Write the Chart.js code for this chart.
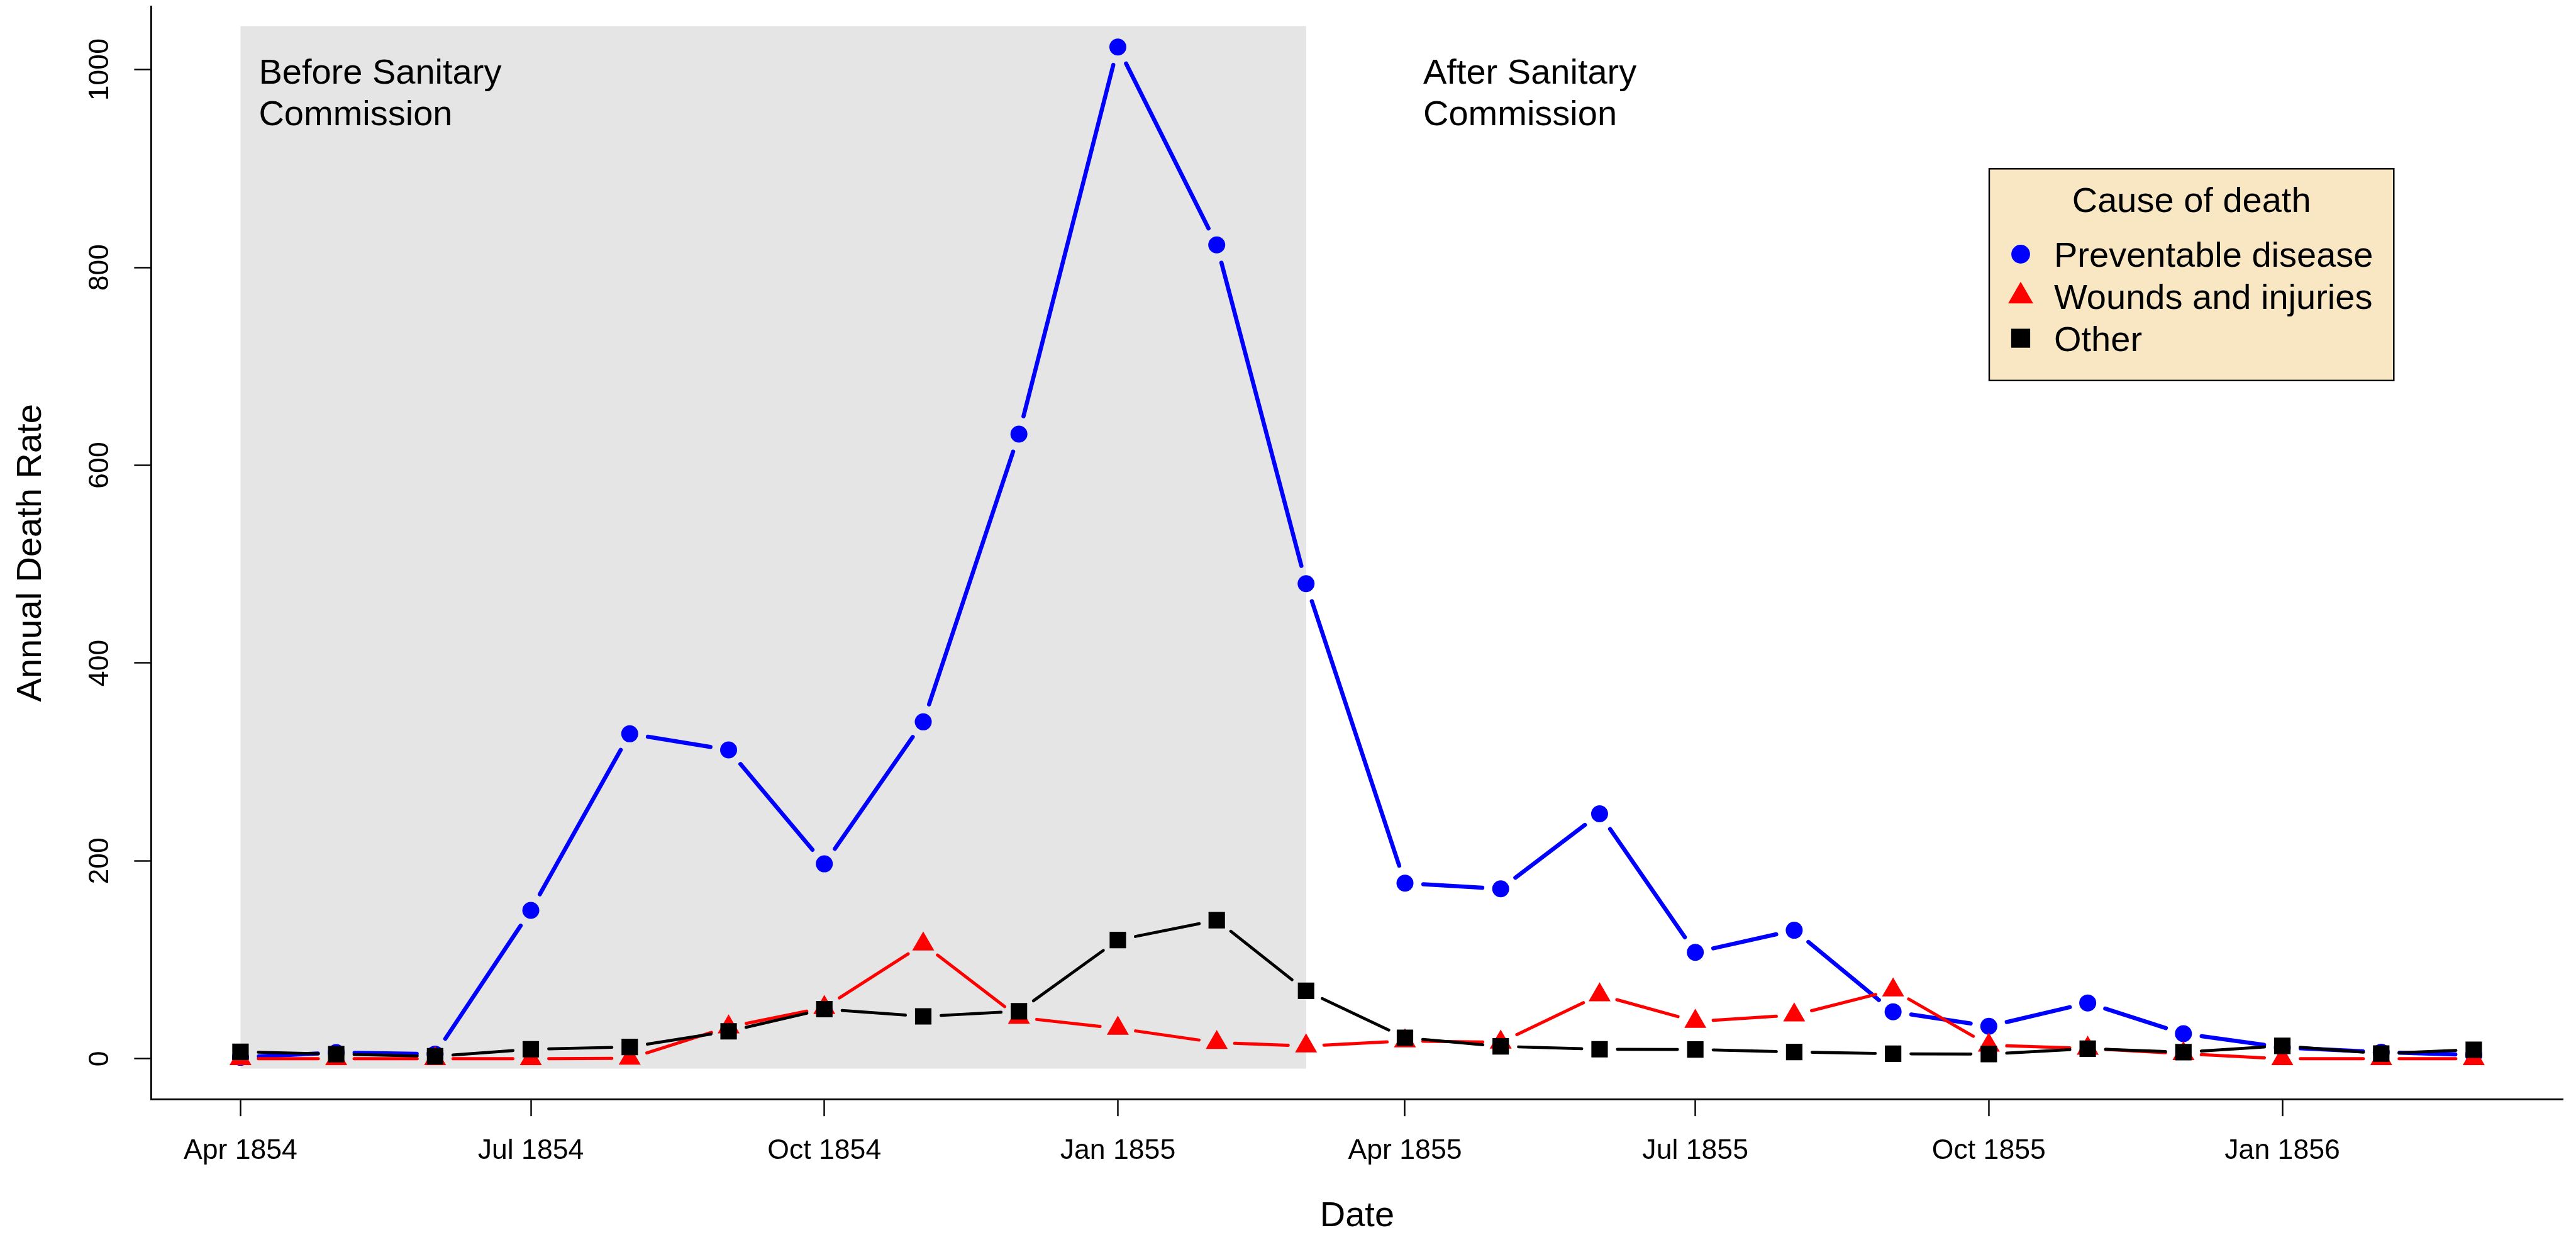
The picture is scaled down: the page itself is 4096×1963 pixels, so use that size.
<!DOCTYPE html>
<html><head><meta charset="utf-8">
<script src="https://cdn.jsdelivr.net/npm/chart.js@4.4.1/dist/chart.umd.min.js"></script>
<style>html,body{margin:0;padding:0;background:#fff;overflow:hidden}canvas{display:block}</style>
</head><body>
<canvas id="c" width="4096" height="1963" style="width:4096px;height:1963px"></canvas>
<script>
// ---------------- data ----------------
const months = ["1854-04","1854-05","1854-06","1854-07","1854-08","1854-09","1854-10","1854-11","1854-12",
  "1855-01","1855-02","1855-03","1855-04","1855-05","1855-06","1855-07","1855-08","1855-09","1855-10","1855-11","1855-12",
  "1856-01","1856-02","1856-03"];
const diseaseRate = [1.4,6.2,4.7,150.0,328.5,312.2,197.0,340.6,631.5,1022.8,822.8,480.3,177.5,171.8,247.6,107.5,129.9,47.5,32.8,56.4,25.3,11.4,6.6,3.9];
const woundsRate  = [0.0,0.0,0.0,0.0,0.4,32.1,51.7,115.8,41.7,30.7,16.3,12.8,17.9,16.6,64.5,37.7,44.1,69.4,13.6,10.5,5.0,0.0,0.0,0.0];
const otherRate   = [7.0,4.6,2.5,9.6,11.9,27.7,50.1,42.8,48.0,120.0,140.1,68.6,21.2,12.5,9.6,9.3,6.8,5.0,4.7,10.1,6.6,13.0,5.2,9.1];
const seriesNames = ["Preventable disease","Wounds and injuries","Other"];
const tickMonths = ["1854-04","1854-07","1854-10","1855-01","1855-04","1855-07","1855-10","1856-01"];
const tickLabels = ["Apr 1854","Jul 1854","Oct 1854","Jan 1855","Apr 1855","Jul 1855","Oct 1855","Jan 1856"];
const yTicks = [0,200,400,600,800,1000];
const shadeFrom = "1854-04", shadeTo = "1855-03";
const shadeBottom = -10, shadeTop = 1044;
const beforeText = ["Before Sanitary","Commission"], beforeAt = "1854-04";
const afterText  = ["After Sanitary","Commission"],  afterAt  = "1855-04";
const legendTitle = "Cause of death";

// ---------------- helpers ----------------
const S = 0.874;
const FONT = '"Liberation Sans", Arial, sans-serif';
const TICK_PX = 44.6, BIG_PX = 56;
const base = Date.UTC(1854, 3, 1);
function dayOf(s){ const [y,m] = s.split("-").map(Number); return (Date.UTC(y, m-1, 1) - base)/864e5; }
const xs = months.map(dayOf);
const xRange = xs[xs.length-1] - xs[0];
const xMin = xs[0] - 0.04*xRange, xMax = xs[xs.length-1] + 0.04*xRange;
const allY = diseaseRate.concat(woundsRate, otherRate);
const yLo = Math.min(...allY), yHi = Math.max(...allY), yR = yHi - yLo;
const yMin = yLo - 0.04*yR, yMax = yHi + 0.04*yR;
const tickDays = tickMonths.map(dayOf);

const GAP = 26;
function gapSeg(lw){
  const g = GAP + lw/2;
  const len = c => Math.hypot(c.p1.x - c.p0.x, c.p1.y - c.p0.y);
  return {
    borderDash: c => { const L = len(c); return [Math.max(L - 2*g, 0.001), 2*g]; },
    borderDashOffset: c => len(c) - g
  };
}
function mk(name, vals, color, style, radius, lw, order){
  return {
    label: name, data: vals.map((v,i)=>({x: xs[i], y: v})),
    borderColor: color, backgroundColor: color, borderWidth: lw,
    borderCapStyle: 'round', borderJoinStyle: 'round',
    pointStyle: style, pointRadius: radius, pointBackgroundColor: color,
    pointBorderColor: color, pointBorderWidth: 0, pointHoverRadius: radius,
    tension: 0, fill: false, order: order, segment: gapSeg(lw)
  };
}
const colors = ["#0000FF", "#FF0000", "#000000"];
const datasets = [
  mk(seriesNames[0], diseaseRate, colors[0], 'circle', 13.5, 6.6, 3),
  mk(seriesNames[1], woundsRate,  colors[1], 'triangle', 20.2, 5.0, 2),
  mk(seriesNames[2], otherRate,   colors[2], 'rect', 18.5, 4.7, 1)
];

const decor = {
  id: 'decor',
  beforeDatasetsDraw(chart){
    const {ctx, chartArea, scales:{x, y}} = chart;
    const x0 = x.getPixelForValue(dayOf(shadeFrom)), x1 = x.getPixelForValue(dayOf(shadeTo));
    const y0 = y.getPixelForValue(shadeTop), y1 = y.getPixelForValue(shadeBottom);
    ctx.save();
    ctx.fillStyle = '#E5E5E5';
    ctx.fillRect(x0, y0, x1 - x0, y1 - y0);
    ctx.fillStyle = '#000';
    ctx.font = BIG_PX + 'px ' + FONT;
    ctx.textAlign = 'left'; ctx.textBaseline = 'alphabetic';
    const base1 = chartArea.top + 122.3, lineGap = 66.4;
    [[beforeText, beforeAt], [afterText, afterAt]].forEach(([lines, at]) => {
      const tx = x.getPixelForValue(dayOf(at)) + 29;
      lines.forEach((t, i) => ctx.fillText(t, tx, base1 + i*lineGap));
    });
    ctx.restore();
  },
  afterDatasetsDraw(chart){
    const {ctx} = chart;
    const bx = 3163, by = 268.3, bw = 643.3, bh = 336.5;
    ctx.save();
    ctx.fillStyle = '#F9E7C3';
    ctx.fillRect(bx, by, bw, bh);
    ctx.strokeStyle = '#000'; ctx.lineWidth = 2.4;
    ctx.strokeRect(bx, by, bw, bh);
    ctx.fillStyle = '#000';
    ctx.font = BIG_PX + 'px ' + FONT;
    ctx.textBaseline = 'alphabetic';
    ctx.textAlign = 'center';
    ctx.fillText(legendTitle, bx + bw/2, by + 68.2);
    ctx.textAlign = 'left';
    const sx = 3213, tx = 3266;
    chart.data.datasets.forEach((ds, i) => {
      const bl = by + 155.7 + i*66.8;
      const cy = bl - 20;
      ctx.fillStyle = ds.pointBackgroundColor;
      ctx.beginPath();
      if (ds.pointStyle === 'circle') {
        ctx.arc(sx, cy, 14.9, 0, Math.PI*2);
      } else if (ds.pointStyle === 'triangle') {
        const r = 23;
        ctx.moveTo(sx, cy - r);
        ctx.lineTo(sx + r*Math.sqrt(3)/2, cy + r/2);
        ctx.lineTo(sx - r*Math.sqrt(3)/2, cy + r/2);
        ctx.closePath();
      } else {
        ctx.rect(sx - 15.1, cy - 15.1, 30.2, 30.2);
      }
      ctx.fill();
      ctx.fillStyle = '#000';
      ctx.fillText(ds.label, tx, bl);
    });
    ctx.restore();
  }
};

new Chart(document.getElementById('c'), {
  type: 'line',
  data: { datasets },
  plugins: [decor],
  options: {
    responsive: false, animation: false, events: [],
    layout: { autoPadding: false, padding: { left: 0, top: 12*S, right: 4096 - 4663*S, bottom: 0 } },
    plugins: { legend: { display: false }, tooltip: { enabled: false } },
    scales: {
      x: {
        type: 'linear', position: 'bottom', min: xMin, max: xMax,
        afterBuildTicks: s => { s.ticks = tickDays.map(v => ({value: v})); },
        afterFit: s => { s.height = 1963 - 1999*S; s.paddingLeft = 0; s.paddingRight = 0; },
        grid: { display: true, drawOnChartArea: false, drawTicks: true, tickLength: 27, tickWidth: 2.4, tickColor: '#000' },
        border: { display: true, color: '#000', width: 2.8 },
        ticks: {
          autoSkip: false, maxRotation: 0, minRotation: 0, padding: 28.5, color: '#000',
          font: { family: FONT, size: TICK_PX },
          callback: v => { const k = tickDays.indexOf(v); return k >= 0 ? tickLabels[k] : ''; }
        },
        title: { display: true, text: 'Date', color: '#000', font: { family: FONT, size: BIG_PX, lineHeight: 1 }, padding: { top: 0, bottom: 1.7 } }
      },
      y: {
        type: 'linear', position: 'left', min: yMin, max: yMax,
        afterBuildTicks: s => { s.ticks = yTicks.map(v => ({value: v})); },
        afterFit: s => { s.width = 275*S; s.paddingTop = 0; s.paddingBottom = 0; },
        grid: { display: true, drawOnChartArea: false, drawTicks: true, tickLength: 27, tickWidth: 2.4, tickColor: '#000' },
        border: { display: true, color: '#000', width: 2.8 },
        ticks: {
          autoSkip: false, minRotation: 90, maxRotation: 90, crossAlign: 'center', padding: 3.85, color: '#000',
          font: { family: FONT, size: TICK_PX },
          callback: v => String(v)
        },
        title: { display: true, text: 'Annual Death Rate', color: '#000', font: { family: FONT, size: BIG_PX, lineHeight: 1 }, padding: { top: 21.8, bottom: 0 } }
      }
    }
  }
});
</script>
</body></html>
